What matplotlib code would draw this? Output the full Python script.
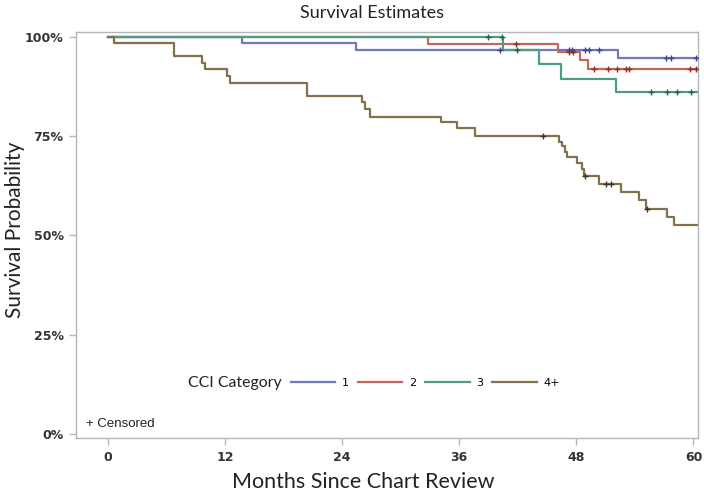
import numpy as np
import matplotlib
matplotlib.use("Agg")
import matplotlib.pyplot as plt
from matplotlib.lines import Line2D
from matplotlib.font_manager import FontProperties

# Kaplan-Meier steps (months, survival)
t1 = [0, 13.7, 25.4, 52.3]
s1 = [1.0, 0.984, 0.967, 0.946]
c1 = [40.2, 47.2, 47.6, 48.9, 49.3, 50.3, 57.2, 57.7, 60.3]

t2 = [0, 32.8, 46.1, 48.4, 49.2]
s2 = [1.0, 0.982, 0.961, 0.942, 0.919]
c2 = [41.8, 47.2, 47.7, 49.8, 51.2, 52.2, 53.1, 53.4, 59.6, 60.3]

t3 = [0, 40.5, 44.2, 46.4, 52.1]
s3 = [1.0, 0.967, 0.931, 0.894, 0.861]
c3 = [39.0, 40.4, 41.9, 55.6, 57.3, 58.3, 59.7]

t4 = [0, 0.65, 6.8, 9.7, 10.0, 12.2, 12.5, 20.4, 26.0, 26.4, 26.9, 34.1,
      35.8, 37.6, 46.2, 46.5, 46.8, 47.0, 48.1, 48.6, 48.8, 50.3, 52.6,
      54.4, 55.1, 57.3, 58.0]
s4 = [1.0, 0.984, 0.952, 0.935, 0.918, 0.900, 0.883, 0.851, 0.835, 0.818,
      0.799, 0.785, 0.770, 0.751, 0.736, 0.724, 0.711, 0.698, 0.682, 0.666,
      0.649, 0.629, 0.608, 0.589, 0.566, 0.547, 0.526]
c4 = [44.6, 48.9, 51.0, 51.5, 55.2]

t_end = 60.4
groups = ["1", "2", "3", "4+"]
colors = ["#7077bd", "#c4675d", "#4f9c86", "#83714c"]
mark_colors = ["#3c4490", "#8e2f26", "#1d6650", "#3f3320"]

times = [t1, t2, t3, t4]
survs = [s1, s2, s3, s4]
cens = [c1, c2, c3, c4]

fig = plt.figure(figsize=(7.04, 4.96), dpi=100)
ax = fig.add_axes([0.108, 0.1163, 0.884, 0.8198])

# draw the curves, brown first so the others stay on top
for i in [3, 0, 1, 2]:
    t = np.array(times[i] + [t_end])
    s = np.array(survs[i] + [survs[i][-1]])
    ax.step(t, s, where="post", color=colors[i], lw=1.6, zorder=2 + i)
    c = np.array(cens[i])
    idx = np.searchsorted(np.array(times[i]), c, side="right") - 1
    ax.plot(c, np.array(survs[i])[idx], ls="none", marker="+", ms=4,
            mew=1.0, color=mark_colors[i], zorder=6)

ax.set_xlim(-3.25, 60.5)
ax.set_ylim(-0.0108, 1.0126)
ax.set_xticks([0, 12, 24, 36, 48, 60])
ax.set_yticks([0, 0.25, 0.5, 0.75, 1.0])
ax.set_yticklabels(["0%", "25%", "50%", "75%", "100%"])

tick_font = FontProperties(family=["Liberation Sans Narrow", "DejaVu Sans"],
                           weight="bold", size=9)
for lab in ax.get_xticklabels() + ax.get_yticklabels():
    lab.set_fontproperties(tick_font)
    lab.set_color("#333333")

ax.tick_params(direction="out", length=5, width=1, color="#b5b5b5", pad=4)
for sp in ax.spines.values():
    sp.set_color("#b5b5b5")
    sp.set_linewidth(1)

lato = ["Lato", "DejaVu Sans"]
fig.text(372 / 704, 1 - 13 / 496, "Survival Estimates", ha="center",
         va="center", fontsize=13, family=lato, color="#222222")
fig.text(363 / 704, 1 - 482 / 496, "Months Since Chart Review", ha="center",
         va="center", fontsize=15.5, family=lato, color="#222222")
fig.text(15 / 704, 1 - 230 / 496, "Survival Probability", ha="center",
         va="center", rotation=90, fontsize=15, family=lato, color="#222222")

# legend strip inside the plot
fig.text(188 / 704, 1 - 383 / 496, "CCI Category", ha="left", va="center",
         fontsize=11.4, family=lato, color="#222222")
handles = [Line2D([0], [0], color=c, lw=1.6) for c in colors]
leg = fig.legend(handles, groups, ncol=4, frameon=False,
                 loc="center left", bbox_to_anchor=(281 / 704, 1 - 383 / 496),
                 handlelength=4.0, handletextpad=0.6, columnspacing=0.8,
                 prop={"family": ["Liberation Sans Narrow", "DejaVu Sans"],
                       "size": 8})

fig.text(86 / 704, 1 - 424 / 496, "+ Censored", ha="left", va="center",
         fontsize=9.5, family=["Liberation Sans", "DejaVu Sans"],
         color="#222222")

plt.savefig("out.png", dpi=100)
